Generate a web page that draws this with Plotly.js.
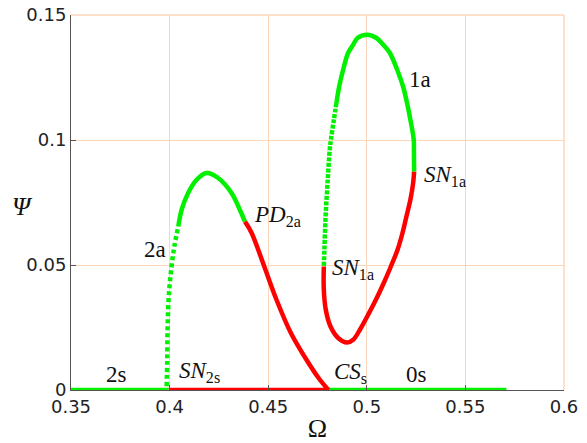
<!DOCTYPE html>
<html>
<head>
<meta charset="utf-8">
<script src="https://cdn.plot.ly/plotly-3.0.1.min.js"></script>
<style>html,body{margin:0;padding:0;background:#fff;}#chart{width:587px;height:443px;}</style>
</head>
<body>
<div id="chart"></div>
<script>
// Base (Psi = 0) branches
var base2sOmega = [0.35, 0.3995];
var base2sPsi   = [0, 0];
var baseRedOmega = [0.3995, 0.481];
var baseRedPsi   = [0, 0];
var base0sOmega = [0.481, 0.5708];
var base0sPsi   = [0, 0];

// 2a branch: sparse (dotted) rising part
var a2DotOmega = [0.3985, 0.3988, 0.3990, 0.3997, 0.4010, 0.4024, 0.4044];
var a2DotPsi   = [0.0015, 0.0121, 0.0254, 0.0388, 0.0494, 0.0574, 0.0654];
// 2a branch: stable dense part up to PD_2a
var a2Omega = [0.4044, 0.4061, 0.4094, 0.4137, 0.4188, 0.4246, 0.4314, 0.4356, 0.4382];
var a2Psi   = [0.0654, 0.0721, 0.0788, 0.0841, 0.0868, 0.0848, 0.0788, 0.0721, 0.0674];
// 2a branch: unstable part from PD_2a to CS_s
var a2RedOmega = [0.4382, 0.4416, 0.4480, 0.4542, 0.4615, 0.4694, 0.4762, 0.4806];
var a2RedPsi   = [0.0674, 0.0628, 0.0494, 0.0361, 0.0228, 0.0121, 0.0041, 0];

// 1a isola: stable part (right SN -> top -> left)
var a1Omega = [0.5240, 0.5239, 0.5238, 0.5221, 0.5204, 0.5184, 0.5154, 0.5117, 0.5083, 0.5049, 0.5002, 0.4953, 0.4931, 0.4905, 0.4880, 0.4860, 0.4846];
var a1Psi   = [0.0874, 0.0961, 0.1001, 0.1081, 0.1148, 0.1214, 0.1281, 0.1348, 0.1381, 0.1408, 0.1421, 0.1408, 0.1381, 0.1348, 0.1281, 0.1214, 0.1148];
// 1a isola: stable sparse part down to left SN
var a1DotOmega = [0.4846, 0.4833, 0.4818, 0.4812, 0.4801, 0.4791, 0.4785, 0.4782];
var a1DotPsi   = [0.1148, 0.1081, 0.1001, 0.0961, 0.0828, 0.0694, 0.0561, 0.0494];
// 1a isola: unstable part (right SN -> bottom -> left SN)
var a1RedOmega = [0.5240, 0.5235, 0.5221, 0.5201, 0.5181, 0.5156, 0.5122, 0.5086, 0.5046, 0.5002, 0.4965, 0.4931, 0.4900, 0.4855, 0.4816, 0.4792, 0.4782, 0.4782];
var a1RedPsi   = [0.0874, 0.0828, 0.0761, 0.0694, 0.0628, 0.0561, 0.0494, 0.0428, 0.0361, 0.0294, 0.0241, 0.0201, 0.0190, 0.0208, 0.0254, 0.0321, 0.0401, 0.0494];

// Labels
var labelText = ['1a', '<i>SN</i><sub>1a</sub>', '<i>PD</i><sub>2a</sub>', '2a', '<i>SN</i><sub>1a</sub>', '2s', '<i>SN</i><sub>2s</sub>', '<i>CS</i><sub>s</sub>', '0s'];
var labelOmega = [0.5206, 0.5280, 0.4416, 0.3992, 0.4813, 0.3733, 0.4035, 0.4821, 0.5252];
var labelPsi   = [0.1241, 0.0855, 0.0697, 0.0561, 0.0485, 0.0062, 0.0071, 0.0069, 0.0062];
var labelAnchor = ['left', 'left', 'left', 'right', 'left', 'center', 'left', 'left', 'center'];

var GREEN = '#00f000';
var RED = '#ff0000';
var LW = 4.5;

function seg(x, y, color, dash) {
  return {
    x: x, y: y, type: 'scatter', mode: 'lines', hoverinfo: 'skip',
    line: {color: color, width: LW, shape: 'spline', smoothing: 1, dash: dash || 'solid'}
  };
}

var traces = [
  seg(baseRedOmega, baseRedPsi, RED),
  seg(base2sOmega, base2sPsi, GREEN),
  seg(base0sOmega, base0sPsi, GREEN),
  seg(a2RedOmega, a2RedPsi, RED),
  seg(a2DotOmega, a2DotPsi, GREEN, '4px,3px'),
  seg(a2Omega, a2Psi, GREEN),
  seg(a1RedOmega, a1RedPsi, RED),
  seg(a1Omega, a1Psi, GREEN),
  seg(a1DotOmega, a1DotPsi, GREEN, '4px,1.5px')
];

var annotations = labelText.map(function (t, i) {
  return {
    text: t, x: labelOmega[i], y: labelPsi[i], xref: 'x', yref: 'y',
    xanchor: labelAnchor[i], yanchor: 'middle', showarrow: false,
    font: {family: 'Liberation Serif, serif', size: 23, color: '#111'}
  };
});
annotations.push({
  text: '<i>Ψ</i>', xref: 'paper', yref: 'paper', x: -0.099, y: 0.49,
  xanchor: 'center', yanchor: 'middle', showarrow: false,
  font: {family: 'Liberation Serif, serif', size: 26, color: '#111'}
});

var GRID = '#fcd6ba';
var layout = {
  width: 587, height: 443,
  margin: {l: 71, r: 23, t: 15, b: 53},
  paper_bgcolor: '#fff', plot_bgcolor: '#fff',
  showlegend: false,
  font: {family: 'DejaVu Sans, sans-serif', size: 18, color: '#222'},
  xaxis: {
    range: [0.35, 0.6], dtick: 0.05, tick0: 0.35,
    showgrid: true, gridcolor: GRID, gridwidth: 1, zeroline: false,
    showline: true, linecolor: '#555', linewidth: 1,
    ticks: 'inside', ticklen: 5, tickcolor: '#555',
    title: {text: 'Ω', font: {family: 'Liberation Serif, serif', size: 26, color: '#111'}, standoff: 4}
  },
  yaxis: {
    range: [0, 0.15], dtick: 0.05, tick0: 0,
    showgrid: true, gridcolor: GRID, gridwidth: 1, zeroline: false,
    showline: true, linecolor: '#555', linewidth: 1,
    ticks: 'inside', ticklen: 5, tickcolor: '#555'
  },
  shapes: [
    {type: 'line', xref: 'paper', yref: 'paper', x0: 0, x1: 1, y0: 1, y1: 1, line: {color: GRID, width: 1.5}, layer: 'below'},
    {type: 'line', xref: 'paper', yref: 'paper', x0: 1, x1: 1, y0: 0, y1: 1, line: {color: GRID, width: 1.5}, layer: 'below'}
  ],
  annotations: annotations
};

Plotly.newPlot('chart', traces, layout, {staticPlot: true, displayModeBar: false});
</script>
</body>
</html>
